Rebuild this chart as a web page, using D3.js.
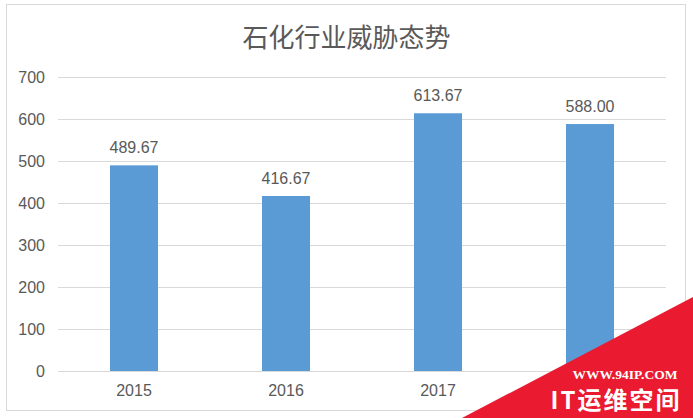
<!DOCTYPE html>
<html>
<head>
<meta charset="utf-8">
<script src="https://cdn.jsdelivr.net/npm/d3@7"></script>
<style>
  body { margin: 0; background: #fff; }
  text { font-family: "Liberation Sans", Arial, "Noto Sans CJK SC", sans-serif; }
</style>
</head>
<body>
<svg id="chart"></svg>
<script>
// chart data
const years = ["2015", "2016", "2017", "2018"];
const threats = [489.67, 416.67, 613.67, 588.00];
const yTicks = [0, 100, 200, 300, 400, 500, 600, 700];
const chartTitle = "石化行业威胁态势";

const W = 693, H = 418;
const margin = {top: 77, right: 27, bottom: 47, left: 58};
const width = W - margin.left - margin.right,
    height = H - margin.top - margin.bottom;

const root = d3.select("#chart")
    .attr("width", W)
    .attr("height", H);

// outer frame
root.append("rect")
    .attr("x", 6.5).attr("y", 4.5)
    .attr("width", 679).attr("height", 406)
    .attr("fill", "#fff")
    .attr("stroke", "#d9d9d9");

root.append("text")
    .attr("x", W / 2)
    .attr("y", 47)
    .attr("text-anchor", "middle")
    .style("font-size", "26px")
    .style("font-family", "'Noto Sans CJK SC', sans-serif")
    .attr("fill", "#595959")
    .text(chartTitle);

const svg = root.append("g")
    .attr("transform", `translate(${margin.left},${margin.top})`);

const x = d3.scaleBand()
    .domain(years)
    .range([0, width])
    .paddingInner(0.684)
    .paddingOuter(0.342);

const y = d3.scaleLinear()
    .domain([0, 700])
    .range([height, 0]);

// gridlines + y labels
const yAxis = svg.append("g")
    .call(d3.axisLeft(y).tickValues(yTicks).tickSize(-width).tickPadding(13));
yAxis.select(".domain").remove();
yAxis.selectAll("line").attr("stroke", "#d9d9d9");
yAxis.selectAll("text")
    .attr("fill", "#595959")
    .style("font-size", "16px");

// x axis
const xAxis = svg.append("g")
    .attr("transform", `translate(0,${height})`)
    .call(d3.axisBottom(x).tickSize(0).tickPadding(14));
xAxis.select(".domain").attr("stroke", "#d9d9d9");
xAxis.selectAll("text")
    .attr("fill", "#595959")
    .style("font-size", "16px");

const rows = years.map((yr, i) => ({year: yr, value: threats[i]}));

svg.selectAll(".bar")
    .data(rows)
    .enter().append("rect")
        .attr("class", "bar")
        .attr("x", d => x(d.year))
        .attr("y", d => y(d.value))
        .attr("width", x.bandwidth())
        .attr("height", d => height - y(d.value))
        .attr("fill", "#5b9bd5");

svg.selectAll(".val")
    .data(rows)
    .enter().append("text")
        .attr("class", "val")
        .attr("x", d => x(d.year) + x.bandwidth() / 2)
        .attr("y", d => y(d.value) - 12)
        .attr("text-anchor", "middle")
        .attr("fill", "#595959")
        .style("font-size", "16px")
        .text(d => d.value.toFixed(2));

// watermark in the corner
root.append("path")
    .attr("d", "M462,418 L693,297 L693,418 Z")
    .attr("fill", "#ea1a30");
root.append("text")
    .attr("x", 625).attr("y", 379)
    .attr("text-anchor", "middle")
    .attr("fill", "#fff")
    .style("font-family", "'Liberation Serif', serif")
    .style("font-weight", "bold")
    .style("font-size", "13.5px")
    .text("WWW.94IP.COM");
root.append("text")
    .attr("x", 616).attr("y", 409)
    .attr("text-anchor", "middle")
    .attr("fill", "#fff")
    .style("font-family", "'Noto Sans CJK SC', sans-serif")
    .style("font-weight", "bold")
    .style("font-size", "24px")
    .style("letter-spacing", "2px")
    .text("IT运维空间");
</script>
</body>
</html>
